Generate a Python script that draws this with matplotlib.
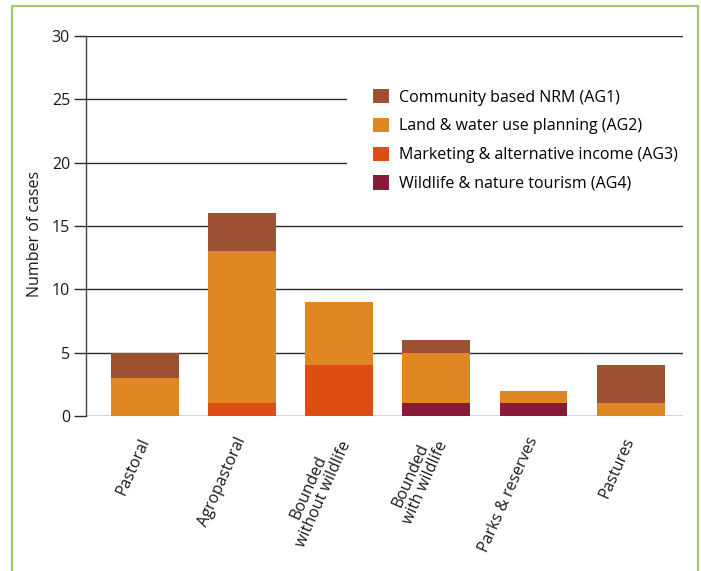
import matplotlib
matplotlib.use("Agg")
import matplotlib.pyplot as plt
from matplotlib.patches import Rectangle, Patch
import numpy as np

plt.rcParams['font.family'] = ['Open Sans', 'DejaVu Sans']

categories = ["Pastoral", "Agropastoral", "Bounded\nwithout wildlife",
              "Bounded\nwith wildlife", "Parks & reserves", "Pastures"]
ag4 = [0, 0, 0, 1, 1, 0]
ag3 = [0, 1, 4, 0, 0, 0]
ag2 = [3, 12, 5, 4, 1, 1]
ag1 = [2, 3, 0, 1, 0, 3]
series_names = ["Community based NRM (AG1)", "Land & water use planning (AG2)",
                "Marketing & alternative income (AG3)", "Wildlife & nature tourism (AG4)"]
colors = {"AG1": "#9C5133", "AG2": "#DF8822", "AG3": "#DC4E14", "AG4": "#8A1A3A"}
yticks = [0, 5, 10, 15, 20, 25, 30]

FS = 11.5
W, H = 701, 571
fig = plt.figure(figsize=(W / 100, H / 100), dpi=100)
fig.patch.set_facecolor("white")

# green frame
fig.patches.append(Rectangle((12 / W, -0.05), (698 - 12) / W, 1.05 - 6 / H,
                             transform=fig.transFigure, fill=False,
                             edgecolor="#A3C86E", linewidth=1.6))

ax = fig.add_axes([86 / W, 1 - 416 / H, (683 - 86) / W, (416 - 36) / H])
x = np.arange(len(categories))
width = 0.7
b4 = np.array(ag4)
b3 = b4 + np.array(ag3)
b2 = b3 + np.array(ag2)
ax.bar(x, ag4, width, color=colors["AG4"], zorder=3)
ax.bar(x, ag3, width, bottom=b4, color=colors["AG3"], zorder=3)
ax.bar(x, ag2, width, bottom=b3, color=colors["AG2"], zorder=3)
ax.bar(x, ag1, width, bottom=b2, color=colors["AG1"], zorder=3)

ax.set_xlim(-0.61, 5.54)
ax.set_ylim(0, 30)
ax.set_yticks(yticks)
ax.set_yticklabels([str(t) for t in yticks], fontsize=FS, color="#1a1a1a")
ax.yaxis.grid(True, color="#2a2a2a", linewidth=1, zorder=1)
ax.tick_params(axis="y", length=8.5, width=1, color="#2a2a2a", pad=3)
for s in ["top", "right", "bottom"]:
    ax.spines[s].set_visible(False)
ax.spines["left"].set_color("#444444")
ax.spines["left"].set_linewidth(1)
ax.set_axisbelow(True)

ax.set_xticks(x)
ax.set_xticklabels(categories, rotation=66, ha="right", va="center",
                   rotation_mode="anchor", fontsize=FS, color="#1a1a1a",
                   multialignment="center", linespacing=1.0)
ax.tick_params(axis="x", length=0, pad=16)

ax.set_ylabel("Number of cases", fontsize=FS, color="#1a1a1a")
ax.yaxis.set_label_coords(-0.072, 0.48)

# white background behind legend (covers gridlines)
ax.add_patch(Rectangle((2.08, 16.5), 3.6, 10.0, facecolor="white",
                       edgecolor="none", zorder=2, clip_on=False))

handles = [Patch(facecolor=colors[k], edgecolor="none") for k in ["AG1", "AG2", "AG3", "AG4"]]
fig.legend(handles, series_names, loc="upper left",
           bbox_to_anchor=(373 / W, 1 - 89 / H), frameon=False, fontsize=FS,
           handlelength=1.0, handleheight=1.0, handletextpad=0.62,
           labelspacing=0.76, borderpad=0, borderaxespad=0)

fig.savefig("out.png", dpi=100, facecolor="white")
